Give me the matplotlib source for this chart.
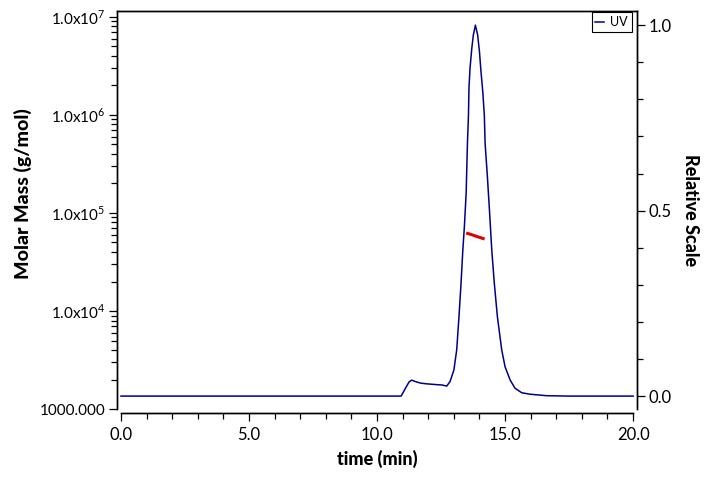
import matplotlib
matplotlib.use("Agg")
import matplotlib.pyplot as plt
from matplotlib.ticker import LogLocator, MultipleLocator, NullFormatter, FixedLocator

plt.rcParams['font.family'] = ['Lato', 'DejaVu Sans']
plt.rcParams['mathtext.fontset'] = 'custom'
plt.rcParams['mathtext.rm'] = 'Lato'

# UV trace (relative scale)
uv_time = [0.0, 5.0, 10.0, 10.94, 11.1, 11.25, 11.35, 11.5, 11.7, 11.94, 12.3, 12.53,
           12.72, 12.85, 13.0, 13.11, 13.2, 13.28, 13.35, 13.41, 13.48, 13.53, 13.57,
           13.59, 13.63, 13.70, 13.76, 13.84, 13.93, 14.0, 14.06, 14.13, 14.19, 14.22,
           14.31, 14.39, 14.48, 14.58, 14.70, 14.87, 15.0, 15.2, 15.39, 15.65, 15.98,
           16.63, 17.5, 20.0]
uv_value = [0.0, 0.0, 0.0, 0.0, 0.02, 0.038, 0.043, 0.039, 0.035, 0.033, 0.031, 0.030,
            0.027, 0.039, 0.070, 0.124, 0.214, 0.304, 0.394, 0.456, 0.547, 0.681, 0.757,
            0.830, 0.883, 0.937, 0.973, 1.0, 0.973, 0.928, 0.874, 0.820, 0.757, 0.681,
            0.591, 0.501, 0.394, 0.304, 0.214, 0.124, 0.079, 0.043, 0.021, 0.009, 0.005,
            0.001, 0.0, 0.0]

# molar mass across the peak
mm_time = [13.48, 13.7, 13.95, 14.2]
mm_value = [62500, 60000, 57000, 54300]

fig = plt.figure(figsize=(7.2, 4.79), dpi=100)
ax = fig.add_axes([0.162, 0.146, 0.723, 0.831])
ax2 = ax.twinx()

ax.set_yscale('log')
ax.set_ylim(1000, 10 ** 7.06)
ax.set_xlim(-0.17, 20.16)
ax2.set_ylim(-0.035, 1.038)

ax2.plot(uv_time, uv_value, color='#00008b', lw=1.1, label='UV')
ax.plot(mm_time, mm_value, color='#e00000', lw=2.2, solid_capstyle='butt')
ax.set_zorder(ax2.get_zorder() + 1)
ax.patch.set_visible(False)

# left log axis
ax.yaxis.set_major_locator(FixedLocator([1e3, 1e4, 1e5, 1e6, 1e7]))
ax.set_yticklabels(['1000.000', r'1.0x10$^{4}$', r'1.0x10$^{5}$', r'1.0x10$^{6}$', r'1.0x10$^{7}$'])
ax.yaxis.set_minor_locator(LogLocator(base=10, subs=range(2, 10), numticks=20))
ax.yaxis.set_minor_formatter(NullFormatter())

ax.set_xticks([0, 5, 10, 15, 20])
ax.set_xticklabels(['0.0', '5.0', '10.0', '15.0', '20.0'])
ax.xaxis.set_minor_locator(MultipleLocator(1))

ax2.yaxis.set_major_locator(FixedLocator([0.0, 0.5, 1.0]))
ax2.set_yticklabels(['0.0', '0.5', '1.0'])
ax2.yaxis.set_minor_locator(FixedLocator([0.1, 0.2, 0.3, 0.4, 0.6, 0.7, 0.8, 0.9]))

for a in (ax, ax2):
    a.tick_params(which='major', length=6, width=0.9, color='black', pad=2)
    a.tick_params(which='minor', length=4, width=0.9, color='black')
    a.spines['bottom'].set_position(('outward', 3))
    a.spines['bottom'].set_bounds(0, 20)
    for s in a.spines.values():
        s.set_linewidth(1.0)
ax.tick_params(axis='y', labelsize=11)
ax.tick_params(axis='x', labelsize=12, pad=4)
ax2.tick_params(axis='y', labelsize=12)

ax.set_xlabel('time (min)', fontsize=13, fontweight='black', labelpad=5)
ax.set_ylabel('Molar Mass (g/mol)', fontsize=14, fontweight='black')
ax.yaxis.set_label_coords(-0.163, 0.54)
ax2.set_ylabel('Relative Scale', fontsize=13, fontweight='black', rotation=270, labelpad=20)

leg = ax2.legend(loc='upper right', bbox_to_anchor=(0.992, 1.0), fontsize=9,
                 handlelength=0.7, handletextpad=0.5, borderpad=0.3,
                 fancybox=False, framealpha=1, borderaxespad=0.1)
leg.get_frame().set_edgecolor('black')
leg.get_frame().set_linewidth(0.8)

fig.savefig('out.png', dpi=100)
